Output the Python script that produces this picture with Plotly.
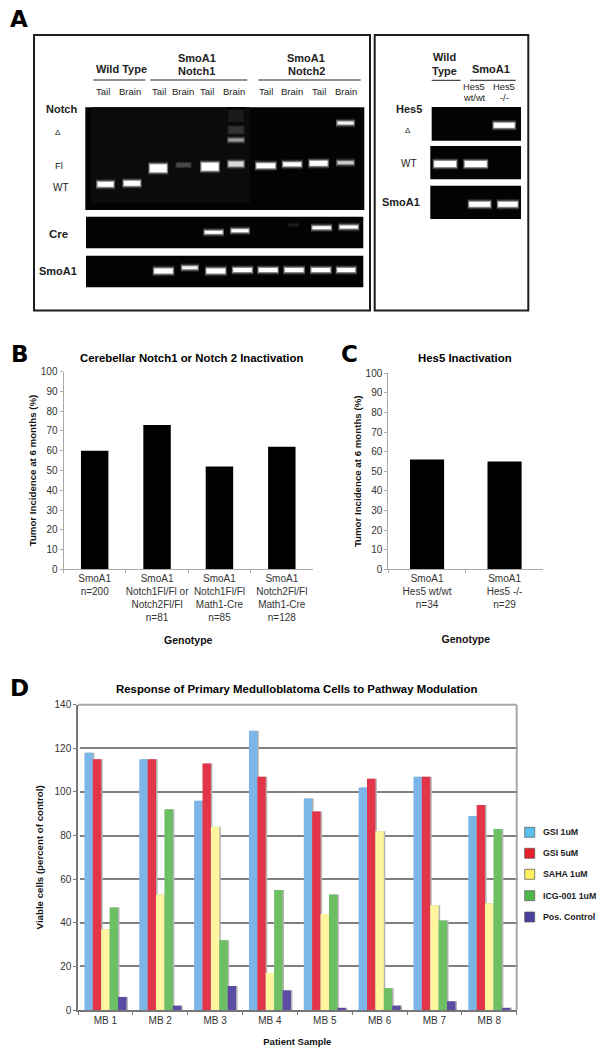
import plotly.graph_objects as go

W, H = 601, 1050
FONT = "Liberation Sans"
INK = "#222222"

# ---------- data ----------
b_labels = ["SmoA1<br>n=200", "SmoA1<br>Notch1Fl/Fl or<br>Notch2Fl/Fl<br>n=81",
            "SmoA1<br>Notch1Fl/Fl<br>Math1-Cre<br>n=85", "SmoA1<br>Notch2Fl/Fl<br>Math1-Cre<br>n=128"]
b_values = [60, 73, 52, 62]

c_labels = ["SmoA1<br>Hes5 wt/wt<br>n=34", "SmoA1<br>Hes5 -/-<br>n=29"]
c_values = [56, 55]

d_samples = ["MB 1", "MB 2", "MB 3", "MB 4", "MB 5", "MB 6", "MB 7", "MB 8"]
gsi_1 = [118, 115, 96, 128, 97, 102, 107, 89]
gsi_5 = [115, 115, 113, 107, 91, 106, 107, 94]
saha_1 = [37, 53, 84, 17, 44, 82, 48, 49]
icg_1 = [47, 92, 32, 55, 53, 10, 41, 83]
pos_ctrl = [6, 2, 11, 9, 1, 2, 4, 1]
d_names = ["GSI 1uM", "GSI 5uM", "SAHA 1uM", "ICG-001 1uM", "Pos. Control"]
d_series = [gsi_1, gsi_5, saha_1, icg_1, pos_ctrl]
d_colors = ["#7CB6E8", "#E2354A", "#FFF59E", "#6DBF63", "#5C4CA3"]
legend_colors = ["#5CC0EE", "#E8202C", "#FFF060", "#4CB848", "#4A3F9F"]
legend_rows = [832.3, 853.3, 874.3, 895.7, 917.0]

# gel bands: x start, x end, migration row, thickness, brightness
notch_bands = [
    (96, 115, 184.3, 5, 1), (122.3, 141.7, 183.3, 5, 1),
    (148.3, 168.3, 168.3, 8, 1), (175, 192, 165, 4, .28),
    (200, 220, 166.7, 8, 1), (227, 245, 164, 5, .85),
    (227, 245, 116, 12, .10), (227, 245, 130, 7, .2), (227, 245, 140, 3, .6),
    (255, 276.7, 165.7, 5, 1), (281.7, 302.7, 164.3, 4, 1),
    (308.3, 329, 163.3, 5, 1), (336, 355, 162.7, 3, .8), (336, 355, 123, 3, .95),
]
cre_bands = [
    (203.3, 224, 232.3, 3, 1), (230, 250, 230.7, 3, 1), (287, 300, 225, 2, .12),
    (311, 332.3, 227.7, 3, 1), (338.3, 359.3, 227, 3, 1),
]
smo_bands = [
    (152.7, 174.3, 271, 5, 1), (180.7, 199, 267.7, 3, .95), (205, 226.7, 271, 5, 1),
    (231.7, 253.3, 270, 4, 1), (257.3, 279, 270, 4, 1), (283.3, 305, 270, 4, 1),
    (310, 331.7, 270, 4, 1), (335.7, 356.7, 270, 4, 1),
]
hes5_bands = [
    (492.3, 516, 125.3, 5, 1), (432.7, 457.7, 164, 6, 1), (463.3, 488.3, 164, 6, 1),
    (467.7, 491.7, 204.3, 5, 1), (496.7, 519, 204.3, 5, 1),
]
all_bands = notch_bands + cre_bands + smo_bands + hes5_bands

gels = [(85.3, 107.3, 364.3, 210), (86, 216.7, 363.3, 248.3), (86, 255.7, 363.3, 287.3),
        (431.7, 107, 521, 140.7), (430.3, 146, 521, 179.3), (430.3, 185.7, 521, 219)]

# text: string, x, y, size, bold
labels_a = [
    ("Wild Type", 121, 69, 11, 1), ("SmoA1", 196.7, 57.5, 11, 1), ("Notch1", 196.7, 71, 11, 1),
    ("SmoA1", 306.3, 57.5, 11, 1), ("Notch2", 306.3, 71, 11, 1),
    ("Tail", 103.3, 91.7, 9.5, 0), ("Brain", 130, 91.7, 9.5, 0), ("Tail", 159, 91.7, 9.5, 0),
    ("Brain", 183, 91.7, 9.5, 0), ("Tail", 207.3, 91.7, 9.5, 0), ("Brain", 234.3, 91.7, 9.5, 0),
    ("Tail", 265.7, 91.7, 9.5, 0), ("Brain", 292.3, 91.7, 9.5, 0), ("Tail", 319.3, 91.7, 9.5, 0),
    ("Brain", 346.3, 91.7, 9.5, 0),
    ("Notch", 61, 108.7, 11, 1), ("Δ", 58, 132, 8, 0), ("Fl", 59.3, 165.7, 9.5, 0), ("WT", 61, 187.7, 10, 0),
    ("Cre", 58.3, 233.7, 11.5, 1), ("SmoA1", 58.3, 270.7, 11, 1),
    ("Wild", 444, 57.3, 11, 1), ("Type", 444, 71, 11, 1), ("SmoA1", 490.7, 69, 11, 1),
    ("Hes5", 474.3, 87.3, 9.3, 0), ("wt/wt", 474.3, 98.3, 9.3, 0), ("Hes5", 504.3, 87.3, 9.3, 0), ("-/-", 504.3, 98.3, 9.3, 0),
    ("Hes5", 409, 109.3, 11, 1), ("Δ", 408.3, 130.7, 8, 0), ("WT", 409, 163.3, 10, 0), ("SmoA1", 400.7, 202.3, 11, 1),
]
underlines = [(93.3, 145.3, 80), (150.3, 247.3, 80), (258.3, 360.7, 80), (431.7, 460.7, 80.3), (470, 515.7, 80.3)]
panel_letters = [("A", 18.5, 18.5), ("B", 19.5, 354), ("C", 349, 354), ("D", 19, 688)]
panel_titles = [("Cerebellar Notch1 or Notch 2 Inactivation", 191.7, 357.7),
                ("Hes5 Inactivation", 465, 357.7),
                ("Response of Primary Medulloblatoma Cells to Pathway Modulation", 296.5, 689.3)]


# ---------- layout helpers ----------
def dx(a, b): return [a / W, b / W]
def dy(top, bottom): return [1 - bottom / H, 1 - top / H]


fig = go.Figure()

# Panels B and C
tick_font = dict(family=FONT, size=10, color="#333333")
title_font = dict(family=FONT, size=10.5, color="#111111")
ytitle_font = dict(family=FONT, size=9.7, color="#111111")
for ax, labels, vals in (("", b_labels, b_values), ("2", c_labels, c_values)):
    fig.add_trace(go.Bar(x=labels, y=vals, marker=dict(color="#000000", line=dict(width=0)),
                         xaxis="x" + ax, yaxis="y" + ax, showlegend=False, width=0.44))
common_x = dict(type="category", showline=True, linecolor="#aaaaaa", linewidth=1, ticks="outside", ticklen=3,
                tickcolor="#aaaaaa", tickson="boundaries", tickfont=tick_font, showgrid=False, tickangle=0,
                title_font=title_font)
common_y = dict(range=[0, 100], dtick=10, showline=True, linecolor="#aaaaaa", linewidth=1, ticks="outside",
                ticklen=3, tickcolor="#aaaaaa", tickfont=tick_font, showgrid=False, zeroline=False,
                title_font=ytitle_font)
title_b = dict(text="<b>Genotype</b>", standoff=14)
title_y = dict(text="<b>Tumor Incidence at 6 months (%)</b>", standoff=2)
fig.update_layout(
    xaxis=dict(domain=dx(63.5, 313), title=title_b, anchor="y", **common_x),
    yaxis=dict(domain=dy(371.7, 569.3), title=title_y, anchor="x", **common_y),
    xaxis2=dict(domain=dx(388.3, 543.3), title=dict(text="<b>Genotype</b>", standoff=26), anchor="y2", **common_x),
    yaxis2=dict(domain=dy(373.3, 569.3), title=title_y, anchor="x2", **common_y),
)

# Panel D: shadow bars first (axes 3), then the bars (axes 4)
for vals in d_series:
    fig.add_trace(go.Bar(x=d_samples, y=vals, marker=dict(color="#b4b4b4", line=dict(width=0)),
                         xaxis="x3", yaxis="y3", showlegend=False, hoverinfo="skip"))
for name, vals, col in zip(d_names, d_series, d_colors):
    fig.add_trace(go.Bar(x=d_samples, y=vals, name=name, marker=dict(color=col, line=dict(width=0)),
                         xaxis="x4", yaxis="y4", showlegend=False))
fig.update_layout(
    barmode="group", bargap=0.234, bargroupgap=0,
    xaxis3=dict(domain=dx(79.5, 518.2), type="category", visible=False, anchor="y3"),
    yaxis3=dict(domain=dy(704.7, 1010), range=[0, 140], dtick=20, showgrid=True, gridcolor="#808080", gridwidth=1.5,
                zeroline=False, showticklabels=False, anchor="x3"),
    xaxis4=dict(domain=dx(78, 516.7), type="category", showline=True, linecolor="#777777", linewidth=1.5,
                ticks="outside", ticklen=3, tickcolor="#777777", tickson="boundaries", tickfont=tick_font,
                title=dict(text="<b>Patient Sample</b>", standoff=14), title_font=dict(family=FONT, size=9.5, color="#111111"),
                anchor="y4"),
    yaxis4=dict(domain=dy(704.7, 1010), range=[0, 140], dtick=20, showgrid=False, showline=True,
                linecolor="#777777", linewidth=1.5, ticks="outside", ticklen=3, tickcolor="#777777",
                zeroline=False, tickfont=tick_font,
                title=dict(text="<b>Viable cells (percent of control)</b>", standoff=9), title_font=ytitle_font,
                anchor="x4"),
)

# Overlay axes in figure units, used for panel A and the hand-placed key
fig.update_layout(
    xaxis5=dict(domain=[0, 1], range=[0, W], visible=False, anchor="y5", fixedrange=True),
    yaxis5=dict(domain=[0, 1], range=[H, 0], visible=False, anchor="x5", fixedrange=True),
)

shapes = []
for x0, x1 in ((34, 370), (374.7, 528.3)):
    shapes.append(dict(type="rect", xref="x5", yref="y5", x0=x0, x1=x1, y0=35, y1=310.5, layer="below",
                       line=dict(color="#1c1c1c", width=2), fillcolor="rgba(0,0,0,0)"))
for x0, y0, x1, y1 in gels:
    shapes.append(dict(type="rect", xref="x5", yref="y5", x0=x0, x1=x1, y0=y0, y1=y1, layer="below",
                       line=dict(width=0), fillcolor="#030303"))
shapes.append(dict(type="rect", xref="x5", yref="y5", x0=91, x1=250, y0=107.3, y1=203, layer="below",
                   line=dict(width=0), fillcolor="#0b0b0b"))
for x0, x1, y in underlines:
    shapes.append(dict(type="line", xref="x5", yref="y5", x0=x0, x1=x1, y0=y, y1=y, line=dict(color="#222222", width=1)))
for x0, y0, x1, y1 in ((78, 704.7, 516.7, 704.7), (516.7, 704.7, 516.7, 1010)):
    shapes.append(dict(type="line", xref="x5", yref="y5", x0=x0, x1=x1, y0=y0, y1=y1, line=dict(color="#a8a8a8", width=2)))
fig.update_layout(shapes=shapes)

# Gel bands with a soft glow: outer dim layers first, bright core last
GLOW = ((6, 0.10, 0), (4, 0.25, 0), (2, 0.55, 0.5), (0, 1.0, 1.5))
for x0, x1, y, th, lum in all_bands:
    for extra, shade, inset in GLOW:
        g = int(255 * lum * shade)
        fig.add_trace(go.Scatter(x=[x0 + inset, x1 - inset], y=[y, y], mode="lines", xaxis="x5", yaxis="y5",
                                 showlegend=False, hoverinfo="skip",
                                 line=dict(color=f"rgb({g},{g},{g})", width=th + extra)))

# Key for panel D
for name, col, row in zip(d_names, legend_colors, legend_rows):
    fig.add_trace(go.Scatter(x=[529.7], y=[row], mode="markers", xaxis="x5", yaxis="y5", showlegend=False, name=name,
                             marker=dict(symbol="square", size=10, color=col, line=dict(color="#555555", width=0.7))))

ann = []
def text(s, x, y, size, bold=False, color=INK, family=FONT, anchor="center"):
    ann.append(dict(text=f"<b>{s}</b>" if bold else s, xref="x5", yref="y5", x=x, y=y, showarrow=False,
                    xanchor=anchor, yanchor="middle", font=dict(family=family, size=size, color=color)))
for s, x, y, size, bold in labels_a:
    text(s, x, y, size, bool(bold))
for s, x, y in panel_letters:
    text(s, x, y, 23, True, "#000000", "DejaVu Sans")
for s, x, y in panel_titles:
    text(s, x, y, 11.4, True, "#000000")
for name, row in zip(d_names, legend_rows):
    text(name, 540.5, row, 8.8, True, "#222222", anchor="left")

fig.update_layout(annotations=ann, width=W, height=H, margin=dict(l=0, r=0, t=0, b=0, autoexpand=False), paper_bgcolor="white",
                  plot_bgcolor="rgba(0,0,0,0)", showlegend=False, font=dict(family=FONT))
fig.write_html("out.html", config=dict(displayModeBar=False),
               post_script="document.body.style.margin='0';")
